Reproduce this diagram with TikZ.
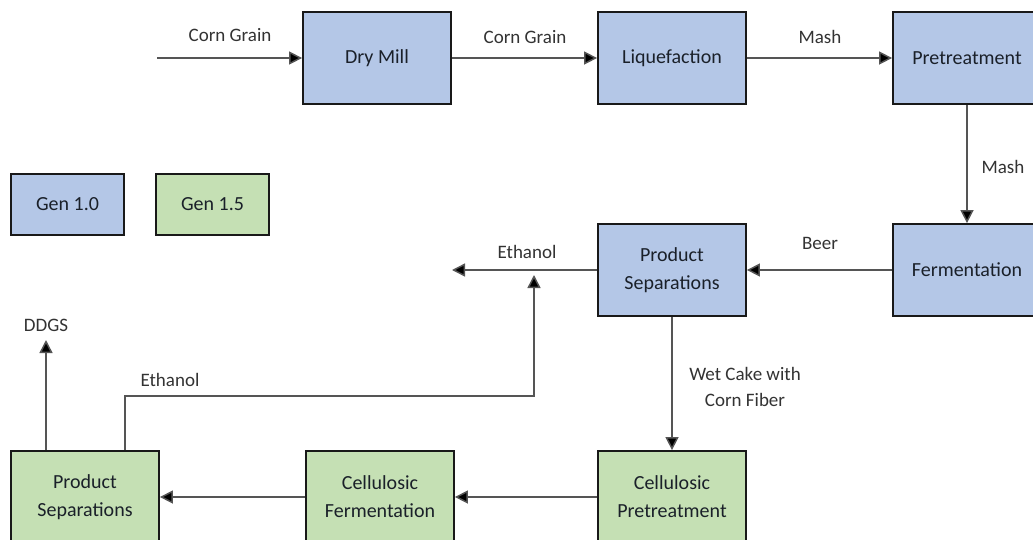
\documentclass[tikz,border=0pt]{standalone}
\usepackage{fontspec}
\setmainfont{Carlito}
\usetikzlibrary{arrows.meta}
\definecolor{genblue}{HTML}{B4C7E7}
\definecolor{gengreen}{HTML}{C5E0B4}
\definecolor{boxtext}{HTML}{1A2029}
\definecolor{flowline}{HTML}{555555}
\definecolor{labeltext}{HTML}{333333}
\tikzset{
  procbox/.style={draw=black!90, line width=1.8pt, minimum width=148pt, minimum height=92pt,
    inner sep=0pt, align=center, text=boxtext, font=\fontsize{20}{28}\selectfont},
  gen10box/.style={procbox, fill=genblue},
  gen15box/.style={procbox, fill=gengreen},
  keybox/.style={draw=black!90, line width=1.8pt, minimum width=113pt, minimum height=61pt,
    inner sep=0pt, text=boxtext, font=\fontsize{20}{24}\selectfont},
  flow/.style={draw=flowline, line width=1.5pt, -{Triangle[length=13pt,width=13pt,fill=black]}},
  flowlabel/.style={text=labeltext, inner sep=0pt, align=center, font=\fontsize{19}{26}\selectfont}
}
\begin{document}
\begin{tikzpicture}[x=1pt,y=-1pt]
  \clip (0,0) rectangle (1033,539);
  \fill[white] (0,0) rectangle (1033,539);

  % Gen 1.0 corn-grain process
  \node[gen10box] (drymill) at (377,58) {Dry Mill};
  \node[gen10box] (liquef) at (672,58) {Liquefaction};
  \node[gen10box] (pretreat) at (967,58) {Pretreatment};
  \node[gen10box] (ferment) at (967,270) {Fermentation};
  \node[gen10box] (prodsep) at (672,270) {Product\\Separations};

  % Gen 1.5 cellulosic process
  \node[gen15box] (cellpre) at (672,497) {Cellulosic\\Pretreatment};
  \node[gen15box] (cellfer) at (380,497) {Cellulosic\\Fermentation};
  \node[gen15box] (prodsepb) at (85,497) {Product\\Separations};

  % legend
  \node[keybox, fill=genblue] (keyone) at (67.5,204.5) {Gen 1.0};
  \node[keybox, fill=gengreen] (keytwo) at (212.5,204.5) {Gen 1.5};

  % free ends of the connectors
  \coordinate (feed) at (157,58);
  \coordinate (ethout) at (452,270);
  \coordinate (ddgs) at (46,340);
  \coordinate (ethrise) at (125,396);
  \coordinate (ethturn) at (534,396);
  \coordinate (ethtip) at (534,275);

  % main flow
  \draw[flow] (feed) -- (drymill.west);
  \draw[flow] (drymill) -- (liquef);
  \draw[flow] (liquef) -- (pretreat);
  \draw[flow] (pretreat) -- (ferment);
  \draw[flow] (ferment) -- (prodsep);
  \draw[flow] (prodsep.west) -- (ethout);
  \draw[flow] (prodsep) -- (cellpre);
  \draw[flow] (cellpre) -- (cellfer);
  \draw[flow] (cellfer) -- (prodsepb);
  \draw[flow] (prodsepb.north -| ddgs) -- (ddgs);
  \draw[flow] (prodsepb.north -| ethrise) -- (ethrise) -- (ethturn) -- (ethtip);

  % stream labels
  \node[flowlabel] (lcorna) at (230,35) {Corn Grain};
  \node[flowlabel] (lcornb) at (525,37) {Corn Grain};
  \node[flowlabel] (lmasha) at (820,37) {Mash};
  \node[flowlabel] (lmashb) at (1003,167) {Mash};
  \node[flowlabel] (lbeer) at (820,243) {Beer};
  \node[flowlabel] (lethup) at (527,252) {Ethanol};
  \node[flowlabel] (lwet) at (745,387) {Wet Cake with\\Corn Fiber};
  \node[flowlabel] (lddgs) at (46,325) {DDGS};
  \node[flowlabel] (lethlow) at (170,380) {Ethanol};
\end{tikzpicture}
\end{document}
